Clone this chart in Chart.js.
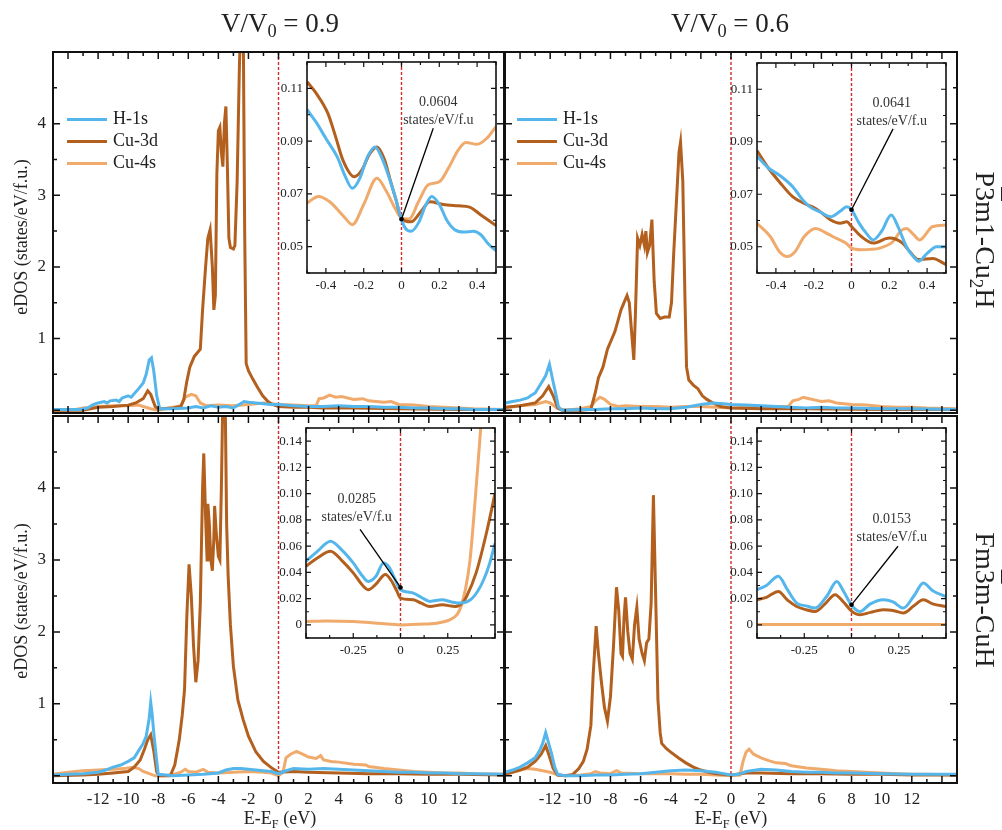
<!DOCTYPE html>
<html lang="en">
<head>
<meta charset="UTF-8">
<title>eDOS Cu2H / CuH</title>
<script src="https://cdn.jsdelivr.net/npm/chart.js"></script>
<style>
  body { margin: 0; background: #fff; }
  #wrap { position: relative; width: 1002px; height: 830px; overflow: hidden;
          font-family: "Liberation Serif", "Times New Roman", serif; color: #222; }
  #wrap canvas { position: absolute; left: 0; top: 0; }
  .txt { position: absolute; white-space: nowrap; transform: translate(-50%, -50%); line-height: 1; }
  .rotR { transform: translate(-50%, -50%) rotate(90deg); }
  .rotL { transform: translate(-50%, -50%) rotate(-90deg); }
  .txt sub { font-size: 68%; vertical-align: -0.3em; line-height: 0; }
  .ov { text-decoration: overline; text-decoration-thickness: 1.5px; }
  .leg { position: absolute; font-size: 18px; line-height: 22px; }
  .leg span { display: inline-block; width: 40px; height: 3px; margin-right: 6px; vertical-align: middle; }
</style>
</head>
<body>
<div id="wrap">
  <canvas id="mTL" width="1002" height="830"></canvas>
  <canvas id="mTR" width="1002" height="830"></canvas>
  <canvas id="mBL" width="1002" height="830"></canvas>
  <canvas id="mBR" width="1002" height="830"></canvas>
  <canvas id="iTL" width="1002" height="830"></canvas>
  <canvas id="iTR" width="1002" height="830"></canvas>
  <canvas id="iBL" width="1002" height="830"></canvas>
  <canvas id="iBR" width="1002" height="830"></canvas>

  <div class="txt" style="left:280px; top:23px; font-size:27px;">V/V<sub>0</sub> = 0.9</div>
  <div class="txt" style="left:730px; top:23px; font-size:27px;">V/V<sub>0</sub> = 0.6</div>
  <div class="txt rotR" style="left:985px; top:240px; font-size:28px;">P<span class="ov">3</span>m1-Cu<sub>2</sub>H</div>
  <div class="txt rotR" style="left:985px; top:600px; font-size:28px;">Fm<span class="ov">3</span>m-CuH</div>
  <div class="txt rotL" style="left:21px; top:237px; font-size:18px;">eDOS (states/eV/f.u.)</div>
  <div class="txt rotL" style="left:21px; top:601px; font-size:18px;">eDOS (states/eV/f.u.)</div>
  <div class="txt" style="left:280px; top:818px; font-size:18px;">E-E<sub>F</sub> (eV)</div>
  <div class="txt" style="left:731px; top:818px; font-size:18px;">E-E<sub>F</sub> (eV)</div>

  <div class="leg" style="left:67px; top:107px;">
    <div><span style="background:#55b6ec"></span>H-1s</div>
    <div><span style="background:#b3601f"></span>Cu-3d</div>
    <div><span style="background:#efaa6c"></span>Cu-4s</div>
  </div>
  <div class="leg" style="left:517px; top:107px;">
    <div><span style="background:#55b6ec"></span>H-1s</div>
    <div><span style="background:#b3601f"></span>Cu-3d</div>
    <div><span style="background:#efaa6c"></span>Cu-4s</div>
  </div>
</div>

<script>
// ---- series names / colours ----
const SERIES = ['H-1s', 'Cu-3d', 'Cu-4s'];
const COLORS = ['#55b6ec', '#b3601f', '#efaa6c'];
const RED = '#d42a2a';
const SERIF = '"Liberation Serif", "Times New Roman", serif';

// ---- tick labels ----
const MAIN_X_TICKS = [-12, -10, -8, -6, -4, -2, 0, 2, 4, 6, 8, 10, 12];
const MAIN_Y_TICKS = [1, 2, 3, 4];
const INSET_TOP_X_TICKS = [-0.4, -0.2, 0, 0.2, 0.4];
const INSET_TOP_Y_TICKS = [0.05, 0.07, 0.09, 0.11];
const INSET_BOT_X_TICKS = [-0.25, 0, 0.25];
const INSET_BOT_Y_TICKS = [0, 0.02, 0.04, 0.06, 0.08, 0.10, 0.12, 0.14];

// ---- DOS at the Fermi level (annotations) ----
const FERMI_DOS = [0.0604, 0.0641, 0.0285, 0.0153];

// ---- main panels: [E-EF (eV), eDOS] ----
// V/V0 = 0.9, P-3m1 Cu2H
const TL_H1S = [[-15,0.01],[-14,0.01],[-13.2,0.01],[-12.7,0.03],[-12.3,0.08],[-12,0.1],[-11.6,0.12],[-11.4,0.1],[-11.2,0.13],[-10.8,0.14],[-10.6,0.12],[-10.4,0.17],[-10,0.2],[-9.8,0.18],[-9.6,0.23],[-9.3,0.3],[-9,0.38],[-8.8,0.5],[-8.6,0.7],[-8.45,0.73],[-8.3,0.55],[-8.1,0.2],[-7.9,0.02],[-7,0.02],[-6,0.03],[-5.5,0.05],[-5,0.03],[-4.5,0.06],[-4,0.04],[-3.5,0.05],[-3,0.03],[-2.6,0.08],[-2.3,0.12],[-2,0.11],[-1.5,0.1],[-1,0.09],[-0.5,0.08],[0,0.08],[0.5,0.07],[1,0.06],[2,0.05],[3,0.05],[4,0.06],[5,0.05],[6,0.05],[7,0.04],[8,0.04],[9,0.03],[10,0.03],[11,0.02],[12,0.02],[13,0.01],[15,0.01]];
const TL_CU3D = [[-15,0],[-13,0],[-12.5,0.02],[-12,0.04],[-11,0.05],[-10,0.07],[-9.5,0.1],[-9,0.16],[-8.7,0.27],[-8.5,0.22],[-8.2,0.05],[-8,0.02],[-7,0.03],[-6.5,0.05],[-6.3,0.15],[-6.1,0.4],[-5.9,0.6],[-5.6,0.75],[-5.4,0.8],[-5.2,0.85],[-5.05,1.4],[-4.85,2.0],[-4.7,2.4],[-4.55,2.52],[-4.4,2.0],[-4.3,1.4],[-4.2,1.6],[-4.1,3.3],[-4.0,3.9],[-3.9,3.95],[-3.8,3.6],[-3.7,3.4],[-3.6,4.0],[-3.5,4.24],[-3.4,3.4],[-3.3,2.4],[-3.2,2.27],[-3.0,2.25],[-2.9,2.3],[-2.75,3.2],[-2.6,4.8],[-2.5,5.5],[-2.35,5.5],[-2.25,2.5],[-2.15,0.65],[-2.0,0.55],[-1.7,0.43],[-1.4,0.32],[-1.05,0.2],[-0.7,0.12],[-0.4,0.08],[0,0.05],[1,0.04],[2,0.04],[3,0.03],[5,0.03],[8,0.02],[12,0.01],[15,0.01]];
const TL_CU4S = [[-15,0],[-13.5,0.01],[-13,0.03],[-12,0.05],[-11,0.06],[-10,0.06],[-9.3,0.07],[-9,0.05],[-8.5,0.02],[-8,0],[-7.5,0.02],[-7,0.04],[-6.5,0.06],[-6.2,0.18],[-5.8,0.22],[-5.5,0.2],[-5.2,0.1],[-4.8,0.06],[-4,0.07],[-3,0.06],[-2,0.08],[-1,0.1],[0,0.08],[1,0.07],[2,0.06],[2.5,0.06],[2.7,0.16],[3,0.17],[3.4,0.21],[3.8,0.18],[4.2,0.19],[5,0.15],[5.6,0.16],[6,0.13],[7,0.11],[7.5,0.12],[8,0.08],[9,0.07],[10,0.05],[11,0.04],[12,0.03],[13,0.02],[15,0.01]];

// V/V0 = 0.6, P-3m1 Cu2H
const TR_H1S = [[-15,0.1],[-14.5,0.12],[-14,0.14],[-13.5,0.17],[-13.3,0.2],[-13,0.24],[-12.7,0.34],[-12.3,0.48],[-12.05,0.64],[-11.8,0.39],[-11.6,0.2],[-11.45,0.04],[-11.2,0],[-10,0.01],[-9,0.01],[-8,0.02],[-7,0.02],[-6,0.03],[-5,0.02],[-4,0.02],[-3,0.04],[-2,0.08],[-1.2,0.1],[-0.5,0.09],[0,0.08],[1,0.07],[2,0.06],[3,0.05],[4,0.04],[5,0.03],[6,0.04],[7,0.03],[8,0.03],[10,0.02],[12,0.02],[15,0.01]];
const TR_CU3D = [[-15,0.04],[-14,0.06],[-13,0.1],[-12.5,0.2],[-12.1,0.33],[-11.8,0.2],[-11.5,0.03],[-11.2,0],[-10,0],[-9.3,0.01],[-9.0,0.25],[-8.8,0.45],[-8.5,0.6],[-8.2,0.85],[-7.9,1.0],[-7.7,1.1],[-7.5,1.25],[-7.3,1.4],[-7.1,1.5],[-6.9,1.6],[-6.75,1.5],[-6.6,1.1],[-6.45,0.7],[-6.35,1.3],[-6.2,2.4],[-6.05,2.3],[-5.9,2.45],[-5.75,2.3],[-5.65,2.5],[-5.55,2.2],[-5.4,2.3],[-5.25,2.66],[-5.1,1.8],[-4.95,1.35],[-4.7,1.28],[-4.4,1.3],[-4.1,1.3],[-3.95,1.5],[-3.8,2.2],[-3.6,3.0],[-3.45,3.6],[-3.35,3.74],[-3.2,3.2],[-3.05,1.5],[-2.95,0.6],[-2.8,0.42],[-2.5,0.35],[-2.2,0.3],[-1.9,0.2],[-1.6,0.15],[-1.2,0.1],[-0.7,0.05],[0,0.03],[2,0.02],[5,0.02],[10,0.01],[15,0.01]];
const TR_CU4S = [[-15,0.03],[-14,0.06],[-13,0.08],[-12.3,0.12],[-12,0.1],[-11.5,0.02],[-11,0],[-10,0.02],[-9.3,0.05],[-9,0.13],[-8.7,0.18],[-8.4,0.15],[-8,0.08],[-7.5,0.05],[-7,0.06],[-6,0.05],[-5,0.05],[-4,0.04],[-3,0.05],[-2,0.05],[-1,0.04],[0,0.03],[1,0.04],[2,0.04],[3,0.05],[3.8,0.05],[4.1,0.13],[4.5,0.15],[4.8,0.18],[5.2,0.16],[5.6,0.14],[6,0.12],[6.5,0.13],[7,0.1],[8,0.08],[9,0.07],[10,0.05],[11,0.04],[12,0.04],[13,0.03],[15,0.02]];

// V/V0 = 0.9, Fm-3m CuH
const BL_H1S = [[-15,0.01],[-14,0.02],[-13,0.03],[-12,0.05],[-11.5,0.08],[-11,0.12],[-10.5,0.15],[-10,0.2],[-9.6,0.25],[-9.3,0.35],[-9.0,0.45],[-8.8,0.55],[-8.6,0.8],[-8.5,1.02],[-8.4,0.85],[-8.3,0.6],[-8.15,0.3],[-8.0,0.02],[-7,0],[-6,0.01],[-5,0.02],[-4,0.04],[-3.5,0.08],[-3,0.1],[-2.5,0.1],[-2,0.09],[-1.5,0.08],[-1,0.07],[-0.5,0.06],[0,0.03],[0.5,0.07],[1,0.1],[2,0.09],[3,0.1],[4,0.09],[5,0.08],[6,0.07],[7,0.06],[8,0.05],[9,0.05],[10,0.04],[11,0.04],[12,0.03],[13,0.03],[15,0.02]];
const BL_CU3D = [[-15,0],[-13,0.01],[-12,0.02],[-11,0.04],[-10,0.06],[-9.6,0.12],[-9.2,0.22],[-8.9,0.38],[-8.7,0.5],[-8.5,0.57],[-8.3,0.35],[-8.1,0.05],[-7.9,0],[-7.2,0],[-6.9,0.15],[-6.6,0.5],[-6.4,0.85],[-6.25,1.2],[-6.1,2.2],[-5.95,2.94],[-5.8,2.5],[-5.65,1.8],[-5.5,1.3],[-5.35,1.6],[-5.2,2.4],[-5.05,4.0],[-4.97,4.48],[-4.85,3.6],[-4.75,3.0],[-4.7,3.78],[-4.6,3.5],[-4.5,3.0],[-4.4,2.85],[-4.3,3.3],[-4.25,3.75],[-4.15,3.4],[-4.0,3.05],[-3.9,3.0],[-3.8,4.0],[-3.7,5.3],[-3.55,5.3],[-3.45,3.5],[-3.35,2.78],[-3.2,2.1],[-3.0,1.52],[-2.7,1.05],[-2.35,0.78],[-2.0,0.55],[-1.5,0.33],[-1.0,0.2],[-0.4,0.1],[0,0.05],[1,0.06],[2,0.05],[4,0.04],[6,0.03],[8,0.03],[10,0.02],[12,0.02],[15,0.01]];
const BL_CU4S = [[-15,0.02],[-14,0.05],[-13,0.07],[-12,0.08],[-11,0.09],[-10.3,0.1],[-9.7,0.12],[-9.3,0.1],[-9,0.06],[-8.6,0.03],[-8.2,0],[-7.5,0],[-7,0.02],[-6.5,0.05],[-6.2,0.09],[-6,0.06],[-5.5,0.05],[-5,0.09],[-4.7,0.05],[-4,0.04],[-3,0.05],[-2,0.06],[-1,0.05],[-0.5,0.04],[0,0],[0.3,0.05],[0.5,0.25],[0.8,0.3],[1.2,0.34],[1.6,0.3],[2,0.26],[2.5,0.24],[2.8,0.28],[3,0.22],[3.5,0.2],[4,0.19],[5,0.16],[5.8,0.15],[6,0.13],[7,0.1],[8,0.08],[9,0.06],[10,0.05],[11,0.04],[12,0.04],[13,0.03],[15,0.02]];

// V/V0 = 0.6, Fm-3m CuH
const BR_H1S = [[-15,0.05],[-14.5,0.08],[-14,0.12],[-13.5,0.18],[-13,0.25],[-12.7,0.35],[-12.5,0.45],[-12.3,0.6],[-12.1,0.45],[-11.9,0.3],[-11.7,0.12],[-11.5,0.02],[-11,0],[-10,0],[-9,0.01],[-8,0.01],[-7,0.02],[-6,0.03],[-5,0.05],[-4,0.07],[-3,0.08],[-2,0.07],[-1,0.05],[-0.5,0.03],[0,0.01],[0.5,0.02],[1,0.06],[2,0.09],[3,0.08],[4,0.06],[5,0.05],[6,0.05],[7,0.04],[8,0.04],[10,0.03],[12,0.02],[15,0.02]];
const BR_CU3D = [[-15,0.02],[-14,0.08],[-13.5,0.12],[-13,0.2],[-12.6,0.3],[-12.3,0.42],[-12.1,0.3],[-11.8,0.1],[-11.5,0.01],[-11,0],[-10.5,0.02],[-10.1,0.1],[-9.8,0.2],[-9.55,0.37],[-9.3,0.7],[-9.15,1.4],[-8.95,2.08],[-8.8,1.7],[-8.6,1.3],[-8.4,0.95],[-8.2,0.76],[-8.0,1.1],[-7.8,1.8],[-7.6,2.62],[-7.45,2.3],[-7.3,1.7],[-7.2,1.66],[-7.1,2.2],[-7.0,2.48],[-6.85,2.0],[-6.7,1.7],[-6.55,1.62],[-6.4,2.1],[-6.25,2.34],[-6.1,1.9],[-5.9,1.7],[-5.75,1.6],[-5.6,1.85],[-5.45,1.9],[-5.3,2.4],[-5.15,3.9],[-5.0,2.5],[-4.85,1.06],[-4.7,0.6],[-4.6,0.45],[-4.3,0.38],[-4.0,0.33],[-3.5,0.25],[-3.0,0.18],[-2.5,0.12],[-2,0.08],[-1.5,0.05],[-1,0.03],[0,0.01],[1,0.04],[2,0.04],[4,0.03],[6,0.03],[8,0.02],[10,0.02],[12,0.01],[15,0.01]];
const BR_CU4S = [[-15,0.02],[-14.5,0.05],[-14,0.08],[-13.5,0.1],[-13,0.09],[-12.5,0.07],[-12,0.05],[-11.5,0.01],[-11,0],[-10,0.01],[-9.3,0.03],[-9,0.06],[-8.7,0.04],[-8,0.03],[-7.6,0.07],[-7.3,0.04],[-6,0.03],[-5,0.03],[-4,0.03],[-3,0.02],[-2,0.02],[-1,0.01],[0,0],[0.6,0.01],[0.8,0.2],[1.0,0.33],[1.2,0.37],[1.5,0.3],[2,0.25],[2.5,0.21],[3,0.18],[3.6,0.17],[4,0.14],[5,0.11],[6,0.09],[7,0.07],[8,0.06],[9,0.05],[10,0.04],[11,0.03],[12,0.02],[13,0.02],[15,0.01]];

// ---- insets (zoom around EF) ----
const ITL_H1S = [[-0.5,0.102],[-0.45,0.097],[-0.4,0.091],[-0.34,0.084],[-0.3,0.077],[-0.26,0.0721],[-0.22,0.076],[-0.18,0.084],[-0.14,0.0878],[-0.1,0.083],[-0.06,0.075],[-0.03,0.068],[0,0.0604],[0.02,0.057],[0.05,0.0558],[0.09,0.059],[0.13,0.066],[0.16,0.069],[0.2,0.066],[0.24,0.06],[0.28,0.0565],[0.33,0.0555],[0.38,0.0558],[0.42,0.0545],[0.46,0.051],[0.5,0.0485]];
const ITL_CU3D = [[-0.5,0.1125],[-0.45,0.108],[-0.39,0.1006],[-0.35,0.092],[-0.31,0.0828],[-0.25,0.0765],[-0.21,0.079],[-0.17,0.085],[-0.13,0.0878],[-0.09,0.083],[-0.06,0.0753],[-0.03,0.068],[0,0.0606],[0.05,0.0594],[0.1,0.063],[0.15,0.067],[0.22,0.066],[0.3,0.0655],[0.36,0.065],[0.42,0.062],[0.5,0.058]];
const ITL_CU4S = [[-0.5,0.0665],[-0.44,0.069],[-0.38,0.067],[-0.3,0.061],[-0.26,0.0583],[-0.2,0.066],[-0.13,0.0759],[-0.08,0.071],[-0.03,0.064],[0,0.0608],[0.04,0.0605],[0.09,0.067],[0.14,0.0734],[0.2,0.0746],[0.25,0.08],[0.3,0.0866],[0.34,0.0895],[0.4,0.0888],[0.45,0.091],[0.5,0.0955]];

const ITR_H1S = [[-0.5,0.0845],[-0.44,0.08],[-0.38,0.0772],[-0.31,0.0728],[-0.26,0.068],[-0.22,0.0652],[-0.16,0.063],[-0.11,0.0614],[-0.06,0.0635],[-0.025,0.0652],[0,0.0641],[0.04,0.059],[0.08,0.055],[0.115,0.0526],[0.16,0.056],[0.21,0.0621],[0.25,0.057],[0.29,0.0501],[0.33,0.046],[0.355,0.0445],[0.4,0.0475],[0.45,0.05],[0.5,0.05]];
const ITR_CU3D = [[-0.5,0.0866],[-0.44,0.08],[-0.38,0.0746],[-0.31,0.069],[-0.25,0.0665],[-0.19,0.0646],[-0.15,0.0625],[-0.11,0.0602],[-0.06,0.059],[-0.025,0.0595],[0,0.0577],[0.05,0.054],[0.115,0.0514],[0.2,0.0533],[0.27,0.0514],[0.31,0.048],[0.355,0.0451],[0.43,0.0455],[0.5,0.0432]];
const ITR_CU4S = [[-0.5,0.0589],[-0.43,0.0539],[-0.38,0.048],[-0.34,0.0463],[-0.3,0.048],[-0.25,0.0539],[-0.19,0.057],[-0.14,0.0555],[-0.1,0.0539],[-0.03,0.0514],[0,0.0495],[0.05,0.0489],[0.1,0.049],[0.15,0.0495],[0.22,0.052],[0.26,0.056],[0.29,0.057],[0.33,0.0545],[0.36,0.0526],[0.43,0.0577],[0.5,0.0583]];

const IBL_H1S = [[-0.5,0.0484],[-0.44,0.056],[-0.37,0.0637],[-0.31,0.057],[-0.25,0.0472],[-0.2,0.037],[-0.17,0.0331],[-0.13,0.037],[-0.09,0.0472],[-0.06,0.044],[-0.03,0.035],[0,0.0268],[0.04,0.025],[0.068,0.0242],[0.11,0.021],[0.156,0.0179],[0.22,0.0191],[0.27,0.0175],[0.315,0.0166],[0.37,0.0191],[0.41,0.026],[0.44,0.0344],[0.47,0.046],[0.5,0.062]];
const IBL_CU3D = [[-0.5,0.0446],[-0.44,0.051],[-0.37,0.0561],[-0.31,0.049],[-0.25,0.0396],[-0.2,0.03],[-0.17,0.0268],[-0.13,0.031],[-0.08,0.0383],[-0.05,0.034],[-0.02,0.026],[0,0.0204],[0.068,0.0191],[0.11,0.0165],[0.156,0.014],[0.22,0.0153],[0.29,0.014],[0.33,0.017],[0.35,0.0217],[0.4,0.0396],[0.455,0.0702],[0.5,0.1]];
const IBL_CU4S = [[-0.5,0.0026],[-0.4,0.003],[-0.25,0.0026],[-0.1,0.001],[0,0],[0.1,0.0005],[0.19,0.0013],[0.26,0.0038],[0.3,0.008],[0.32,0.014],[0.345,0.028],[0.368,0.0497],[0.394,0.0931],[0.42,0.1415],[0.45,0.2],[0.5,0.3]];

const IBR_H1S = [[-0.5,0.0268],[-0.45,0.03],[-0.387,0.037],[-0.34,0.027],[-0.29,0.0166],[-0.24,0.0145],[-0.193,0.0128],[-0.13,0.022],[-0.078,0.0331],[-0.04,0.025],[0,0.015],[0.045,0.0102],[0.1,0.016],[0.168,0.0191],[0.22,0.0175],[0.274,0.0128],[0.33,0.022],[0.38,0.0319],[0.43,0.026],[0.5,0.0215]];
const IBR_CU3D = [[-0.5,0.0191],[-0.45,0.021],[-0.387,0.0255],[-0.34,0.019],[-0.29,0.014],[-0.24,0.0115],[-0.193,0.0102],[-0.14,0.016],[-0.087,0.023],[-0.04,0.017],[0,0.0105],[0.045,0.0077],[0.1,0.0095],[0.168,0.0115],[0.22,0.011],[0.274,0.009],[0.33,0.0145],[0.38,0.0191],[0.43,0.016],[0.5,0.014]];
const IBR_CU4S = [[-0.5,0.0003],[-0.25,0.0003],[0,0.0002],[0.25,0.0003],[0.5,0.0003]];

// ---- helpers ----
const W = 1002, H = 830;
const toXY = arr => arr.map(p => ({ x: p[0], y: p[1] }));

function marks(from, to, step, isMajor) {
  const out = [];
  const n = Math.round((to - from) / step);
  for (let i = 0; i <= n; i++) {
    const v = +(from + i * step).toFixed(4);
    out.push([v, isMajor(v)]);
  }
  return out;
}

// frame, inward ticks, red EF line, optional note with arrow
function frame(cfg) {
  return {
    id: 'frame',
    beforeDraw(chart) {
      if (!cfg.fill) return;
      const a = chart.chartArea, c = chart.ctx;
      c.save();
      c.fillStyle = '#fff';
      c.fillRect(a.left, a.top, a.right - a.left, a.bottom - a.top);
      c.restore();
    },
    beforeDatasetsDraw(chart) {
      const a = chart.chartArea, c = chart.ctx;
      const px = chart.scales.x.getPixelForValue(0);
      c.save();
      c.strokeStyle = RED; c.lineWidth = 1.4; c.setLineDash([3, 2]);
      c.beginPath(); c.moveTo(px, a.top); c.lineTo(px, a.bottom); c.stroke();
      c.restore();
    },
    afterDatasetsDraw(chart) {
      const a = chart.chartArea, c = chart.ctx;
      const sx = chart.scales.x, sy = chart.scales.y;
      c.save();
      c.strokeStyle = '#111'; c.lineWidth = cfg.tickW;
      c.beginPath();
      cfg.xMarks.forEach(([v, major]) => {
        const p = sx.getPixelForValue(v), L = major ? cfg.major : cfg.minor;
        c.moveTo(p, a.bottom); c.lineTo(p, a.bottom - L);
        c.moveTo(p, a.top); c.lineTo(p, a.top + L);
      });
      cfg.yMarks.forEach(([v, major]) => {
        const p = sy.getPixelForValue(v), L = major ? cfg.major : cfg.minor;
        c.moveTo(a.left, p); c.lineTo(a.left + L, p);
        c.moveTo(a.right, p); c.lineTo(a.right - L, p);
      });
      c.stroke();
      c.lineWidth = cfg.lw;
      c.strokeRect(a.left, a.top, a.right - a.left, a.bottom - a.top);

      if (cfg.note) {
        const n = cfg.note;
        const x1 = sx.getPixelForValue(n.ax), y1 = sy.getPixelForValue(n.ay);
        const x2 = sx.getPixelForValue(0), y2 = sy.getPixelForValue(n.value);
        c.lineWidth = 1.3; c.strokeStyle = '#000';
        c.beginPath(); c.moveTo(x1, y1); c.lineTo(x2, y2); c.stroke();
        c.fillStyle = '#000';
        c.beginPath(); c.arc(x2, y2, 2.3, 0, Math.PI * 2); c.fill();
        c.fillStyle = '#333';
        c.font = '14px ' + SERIF;
        c.textAlign = 'center'; c.textBaseline = 'middle';
        const tx = sx.getPixelForValue(n.tx), ty = sy.getPixelForValue(n.ty);
        c.fillText(n.value.toFixed(4), tx, ty);
        c.fillText('states/eV/f.u', tx, ty + 18);
      }
      c.restore();
    }
  };
}

function datasets(list, smooth) {
  return list.map((d, i) => ({
    label: SERIES[i],
    data: toXY(d),
    borderColor: COLORS[i],
    borderWidth: 3,
    pointRadius: 0,
    fill: false,
    clip: 0,
    tension: smooth ? 0.4 : 0,
    cubicInterpolationMode: smooth ? 'monotone' : 'default'
  }));
}

function axis(min, max, ticks, show, size, pad, fit, fmt) {
  return {
    type: 'linear', min, max,
    afterBuildTicks: s => { s.ticks = ticks.map(v => ({ value: v })); },
    afterFit: fit,
    grid: { display: false, drawTicks: false },
    border: { display: false },
    ticks: { display: show, autoSkip: false, maxRotation: 0, padding: pad, color: '#222',
             font: { family: SERIF, size }, callback: fmt }
  };
}

function mainChart(id, box, series, showX, showY, yMin) {
  return new Chart(document.getElementById(id), {
    type: 'line',
    data: { datasets: datasets(series, false) },
    options: {
      responsive: false, animation: false, events: [],
      layout: { padding: { left: box.left - 40, right: W - box.right, top: box.top, bottom: H - box.bottom - 30 } },
      plugins: { legend: { display: false }, tooltip: { enabled: false } },
      scales: {
        x: axis(-15, 15, MAIN_X_TICKS, showX, 17, 6, s => { s.height = 30; }, v => String(v)),
        y: axis(yMin, 5, MAIN_Y_TICKS, showY, 17, 7, s => { s.width = 40; }, v => String(v))
      }
    },
    plugins: [frame({
      fill: false, lw: 2, tickW: 1.5, major: 7, minor: 4,
      xMarks: marks(-15, 15, 1, v => v % 2 === 0),
      yMarks: marks(0, 5, 0.5, v => Number.isInteger(v))
    })]
  });
}

function insetChart(id, box, series, top, note) {
  const xT = top ? INSET_TOP_X_TICKS : INSET_BOT_X_TICKS;
  const yT = top ? INSET_TOP_Y_TICKS : INSET_BOT_Y_TICKS;
  const yMin = top ? 0.04 : -0.01, yMax = top ? 0.12 : 0.15;
  return new Chart(document.getElementById(id), {
    type: 'line',
    data: { datasets: datasets(series, true) },
    options: {
      responsive: false, animation: false, events: [],
      layout: { padding: { left: box.left - 34, right: W - box.right, top: box.top, bottom: H - box.bottom - 24 } },
      plugins: { legend: { display: false }, tooltip: { enabled: false } },
      scales: {
        x: axis(-0.5, 0.5, xT, true, 13, 5, s => { s.height = 24; }, v => String(v)),
        y: axis(yMin, yMax, yT, true, 13, 4, s => { s.width = 34; }, v => v === 0 ? '0' : v.toFixed(2))
      }
    },
    plugins: [frame({
      fill: true, lw: 1.6, tickW: 1.2, major: 5, minor: 3,
      xMarks: top ? marks(-0.5, 0.5, 0.1, v => Math.round(v * 10) % 2 === 0)
                  : marks(-0.5, 0.5, 0.125, v => Math.round(v * 8) % 2 === 0),
      yMarks: top ? marks(0.04, 0.12, 0.01, v => Math.round(v * 100) % 2 === 1)
                  : marks(-0.01, 0.15, 0.01, v => Math.round(v * 100) % 2 === 0),
      note
    })]
  });
}

// ---- main panels ----
mainChart('mTL', { left: 53, right: 504, top: 52, bottom: 413 }, [TL_H1S, TL_CU3D, TL_CU4S], false, true, -0.04);
mainChart('mTR', { left: 505, right: 957, top: 52, bottom: 413 }, [TR_H1S, TR_CU3D, TR_CU4S], false, false, -0.04);
mainChart('mBL', { left: 53, right: 504, top: 416, bottom: 783 }, [BL_H1S, BL_CU3D, BL_CU4S], true, true, -0.1);
mainChart('mBR', { left: 505, right: 957, top: 416, bottom: 783 }, [BR_H1S, BR_CU3D, BR_CU4S], true, false, -0.1);

// ---- insets ----
insetChart('iTL', { left: 307, right: 496, top: 62, bottom: 273 }, [ITL_H1S, ITL_CU3D, ITL_CU4S], true,
  { value: FERMI_DOS[0], tx: 0.195, ty: 0.1048, ax: 0.168, ay: 0.0949 });
insetChart('iTR', { left: 757, right: 946, top: 63, bottom: 273 }, [ITR_H1S, ITR_CU3D, ITR_CU4S], true,
  { value: FERMI_DOS[1], tx: 0.213, ty: 0.1048, ax: 0.22, ay: 0.0949 });
insetChart('iBL', { left: 306, right: 495, top: 428, bottom: 638 }, [IBL_H1S, IBL_CU3D, IBL_CU4S], false,
  { value: FERMI_DOS[2], tx: -0.232, ty: 0.0956, ax: -0.214, ay: 0.0727 });
insetChart('iBR', { left: 757, right: 946, top: 428, bottom: 638 }, [IBR_H1S, IBR_CU3D, IBR_CU4S], false,
  { value: FERMI_DOS[3], tx: 0.213, ty: 0.0803, ax: 0.246, ay: 0.0599 });
</script>
</body>
</html>
